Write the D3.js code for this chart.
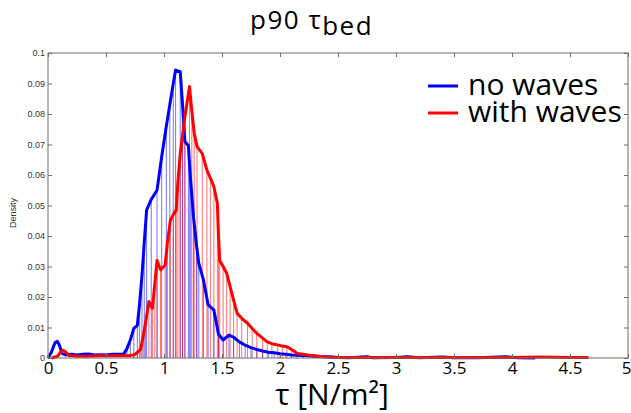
<!DOCTYPE html>
<html><head><meta charset="utf-8">
<script src="https://cdn.jsdelivr.net/npm/d3@7/dist/d3.min.js"></script>
<style>body{margin:0;background:#fff}svg{display:block}</style>
</head><body>
<script>
// ---- data ----
const seriesNames = ["no waves", "with waves"];
const blueTau = [0.00,0.03,0.06,0.08,0.10,0.12,0.15,0.20,0.25,0.30,0.35,0.40,0.45,0.50,0.55,0.60,0.65,0.68,0.71,0.74,0.77,0.79,0.81,0.83,0.85,0.89,0.94,0.98,1.02,1.05,1.08,1.10,1.14,1.16,1.18,1.21,1.23,1.255,1.28,1.30,1.34,1.38,1.43,1.47,1.51,1.56,1.60,1.65,1.70,1.75,1.80,1.85,1.90,1.95,2.00,2.05,2.10,2.15,2.20,2.25,2.30,2.35,2.40,2.45,2.50,2.60,2.70,2.75,2.80,3.00,3.10,3.20,3.40,3.50,3.70,3.95,4.05,4.20];
const blueDens = [0.000,0.002,0.005,0.0055,0.004,0.0015,0.001,0.0012,0.001,0.0012,0.0013,0.001,0.0011,0.001,0.0012,0.0012,0.0012,0.003,0.006,0.0097,0.0107,0.018,0.027,0.038,0.0485,0.052,0.055,0.066,0.076,0.083,0.090,0.0944,0.0939,0.083,0.071,0.0697,0.058,0.046,0.037,0.031,0.0256,0.0175,0.0157,0.0078,0.0059,0.0075,0.0068,0.0053,0.0042,0.0034,0.0028,0.0023,0.0019,0.0017,0.0014,0.0012,0.0010,0.0009,0.0008,0.0007,0.0006,0.0005,0.0004,0.0003,0.0002,0.0001,0.0003,0.0004,0.0001,0.0002,0.0004,0.0001,0.0003,0.0001,0.0001,0.0004,0.0001,0.0000];
const redTau = [0.03,0.08,0.11,0.13,0.15,0.18,0.25,0.35,0.45,0.55,0.65,0.70,0.74,0.77,0.80,0.82,0.84,0.87,0.90,0.92,0.94,0.97,1.01,1.03,1.055,1.08,1.105,1.12,1.14,1.16,1.18,1.22,1.24,1.26,1.285,1.33,1.37,1.40,1.43,1.46,1.47,1.48,1.51,1.54,1.57,1.60,1.63,1.67,1.72,1.76,1.80,1.85,1.89,1.93,1.98,2.02,2.06,2.10,2.15,2.20,2.25,2.30,2.35,2.40,2.50,2.75,3.00,3.25,3.50,3.75,4.00,4.25,4.50,4.66];
const redDens = [0.0000,0.0005,0.002,0.0026,0.002,0.0008,0.0006,0.0006,0.0007,0.0007,0.0007,0.0008,0.001,0.0018,0.003,0.007,0.0114,0.0185,0.0163,0.024,0.032,0.0289,0.0305,0.038,0.0452,0.047,0.0485,0.058,0.067,0.073,0.079,0.089,0.081,0.0737,0.0693,0.067,0.0616,0.059,0.0562,0.0507,0.040,0.032,0.030,0.0278,0.0234,0.019,0.0147,0.013,0.0114,0.0097,0.0081,0.0065,0.0053,0.0047,0.0043,0.0039,0.0037,0.0028,0.0015,0.0012,0.0009,0.0007,0.0005,0.0003,0.0002,0.0002,0.0002,0.0002,0.0002,0.0002,0.0002,0.0003,0.0002,0.0002];
const xTicks = [0,0.5,1,1.5,2,2.5,3,3.5,4,4.5,5];
const yTicks = [0,0.01,0.02,0.03,0.04,0.05,0.06,0.07,0.08,0.09,0.1];
const yTickLabels = ["0","0.01","0.02","0.03","0.04","0.05","0.06","0.07","0.08","0.09","0.1"];
const xTickLabels = ["0","0.5","1","1.5","2","2.5","3","3.5","4","4.5","5"];

const W = 631, H = 413;
const L = 48, R = 628, T = 53, B = 358;
const svg = d3.select("body").append("svg").attr("width", W).attr("height", H);
const x = d3.scaleLinear().domain([0,5]).range([L,R]);
const y = d3.scaleLinear().domain([0,0.1]).range([B,T]);

const blue = blueTau.map((t,i)=>({t, d: blueDens[i]}));
const red = redTau.map((t,i)=>({t, d: redDens[i]}));

// stems
function stems(data, color){
  svg.append("g").selectAll("line").data(data.filter(p=>p.t>=0.68 && p.t<=2.5)).join("line")
    .attr("x1", p=>x(p.t)).attr("x2", p=>x(p.t))
    .attr("y1", y(0)).attr("y2", p=>y(p.d))
    .attr("stroke", color).attr("stroke-width", 1).attr("stroke-opacity", 0.55);
}
stems(blue, "#0000ff");
stems(red, "#ff0000");

const line = d3.line().x(p=>x(p.t)).y(p=>y(p.d));
svg.append("path").datum(blue).attr("d", line).attr("fill","none").attr("stroke","#0000ff").attr("stroke-width",3).attr("stroke-linejoin","round");
svg.append("path").datum(red).attr("d", line).attr("fill","none").attr("stroke","#ff0000").attr("stroke-width",3).attr("stroke-linejoin","round");

// axes box + inward ticks
const axisColor = "#6e6e6e";
svg.append("rect").attr("x",L).attr("y",T).attr("width",R-L).attr("height",B-T)
  .attr("fill","none").attr("stroke",axisColor).attr("stroke-width",1);
const gB = svg.append("g").attr("transform",`translate(0,${B})`)
  .call(d3.axisBottom(x).tickValues(xTicks).tickSize(-4).tickFormat((d,i)=>xTickLabels[i]));
const gT = svg.append("g").attr("transform",`translate(0,${T})`)
  .call(d3.axisTop(x).tickValues(xTicks).tickSize(-4).tickFormat(""));
const gL = svg.append("g").attr("transform",`translate(${L},0)`)
  .call(d3.axisLeft(y).tickValues(yTicks).tickSize(-4).tickFormat((d,i)=>yTickLabels[i]));
const gR = svg.append("g").attr("transform",`translate(${R},0)`)
  .call(d3.axisRight(y).tickValues(yTicks).tickSize(-4).tickFormat(""));
[gB,gT,gL,gR].forEach(g=>{ g.select(".domain").remove(); g.selectAll(".tick line").attr("stroke",axisColor); });
gB.selectAll("text").attr("font-family","'Open Sans'").attr("font-size",17).attr("fill","#000").attr("y",4).attr("dy","0.71em");
gB.selectAll(".tick").filter(d=>d===5).select("text").attr("text-anchor","end").attr("x",3);
gL.selectAll("text").attr("font-family","'Liberation Sans', Arial").attr("font-size",9).attr("fill","#333").attr("x",-3);

// labels
svg.append("text").attr("transform","translate(16,213) rotate(-90)").attr("text-anchor","middle")
  .attr("font-family","'Liberation Sans', Arial").attr("font-size",9).attr("fill","#333").text("Density");
svg.append("text").attr("x",332).attr("y",405).attr("text-anchor","middle")
  .attr("font-family","'Open Sans'").attr("font-size",30).attr("fill","#000").text("τ [N/m²]");
const title = svg.append("text").attr("x",250).attr("y",29)
  .attr("font-family","'Open Sans'").attr("font-size",26).attr("letter-spacing",1.5).attr("fill","#000");
title.append("tspan").text("p90 τ");
title.append("tspan").attr("dy",6).text("bed");

// legend
const legColors = ["#0000ff","#ff0000"];
seriesNames.forEach((n,i)=>{
  const ly = 86 + i*27;
  svg.append("line").attr("x1",428).attr("x2",458).attr("y1",ly).attr("y2",ly)
    .attr("stroke",legColors[i]).attr("stroke-width",3);
  svg.append("text").attr("x",468).attr("y",ly+9).attr("font-family","'Open Sans'")
    .attr("font-size",30).attr("fill","#000").text(n);
});
</script>
</body></html>
